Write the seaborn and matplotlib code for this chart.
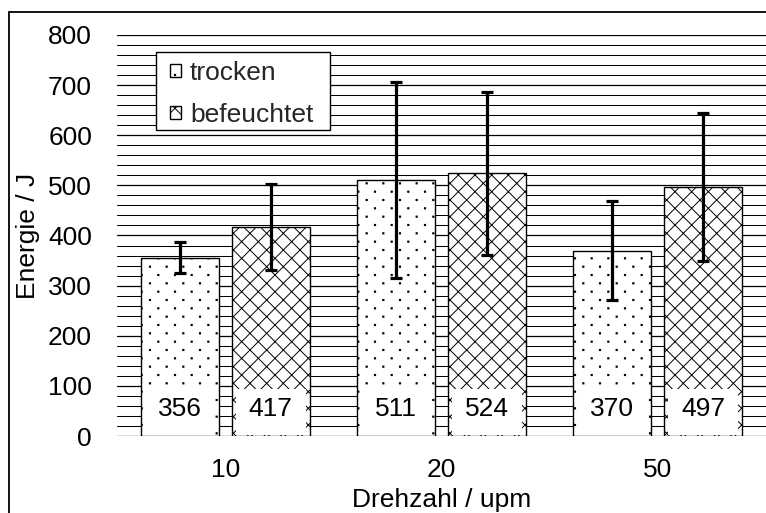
import numpy as np
import pandas as pd
import matplotlib
matplotlib.use("Agg")
import matplotlib.pyplot as plt
import seaborn as sns
from matplotlib import hatch as mhatch
from matplotlib.path import Path
from matplotlib.patches import Rectangle

# Messwerte: mittlere Energie je Drehzahl und Zustand, mit Standardabweichung
drehzahl = ["10", "20", "50"]
zustand = ["trocken", "befeuchtet"]
energie_trocken = [356, 511, 370]
energie_befeuchtet = [417, 524, 497]
fehler_trocken = [31, 196, 98]
fehler_befeuchtet = [85, 163, 148]


class SparseDots(mhatch.HatchPatternBase):
    """Staggered dot grid: columns at 1/n, rows at 1/(2n) of the hatch tile."""

    def __init__(self, hatch, density):
        self.ncol = hatch.count(".") * density
        self.nrow = 2 * self.ncol
        if self.ncol:
            ndots = (self.nrow // 2 + 1) * (self.ncol + 1) + (self.nrow // 2) * self.ncol
            self.num_vertices = ndots * 5
        else:
            self.num_vertices = 0

    def set_vertices_and_codes(self, vertices, codes):
        dx = 1.0 / self.ncol
        dy = 1.0 / self.nrow
        r = 0.006
        square = np.array([[-r, -r], [r, -r], [r, r], [-r, r], [-r, -r]])
        square_codes = [Path.MOVETO, Path.LINETO, Path.LINETO, Path.LINETO, Path.CLOSEPOLY]
        k = 0
        for row in range(self.nrow + 1):
            if row % 2 == 0:
                xs = np.linspace(0, 1, self.ncol + 1)
            else:
                xs = np.linspace(dx / 2, 1 - dx / 2, self.ncol)
            for x in xs:
                vertices[k:k + 5] = square + [x, row * dy]
                codes[k:k + 5] = square_codes
                k += 5


mhatch._hatch_types = [SparseDots if t is mhatch.SmallFilledCircles else t
                       for t in mhatch._hatch_types]

sns.set_theme(style="white")
plt.rcParams["font.family"] = ["Liberation Sans", "DejaVu Sans"]
plt.rcParams["hatch.linewidth"] = 0.7
plt.rcParams["hatch.color"] = "black"

FS = 19

df = pd.DataFrame({
    "Drehzahl": drehzahl * 2,
    "Zustand": [zustand[0]] * 3 + [zustand[1]] * 3,
    "Energie": energie_trocken + energie_befeuchtet,
})
fehler = [fehler_trocken, fehler_befeuchtet]

fig = plt.figure(figsize=(7.66, 5.13), dpi=100)
fig.patch.set_facecolor("white")
ax = fig.add_axes([117 / 766, 77 / 513, 649 / 766, 401 / 513])

sns.barplot(data=df, x="Drehzahl", y="Energie", hue="Zustand",
            order=drehzahl, hue_order=zustand,
            palette=["white", "white"], saturation=1,
            width=0.84, gap=0.143, edgecolor="black", linewidth=1.0,
            errorbar=None, legend=False, ax=ax)

hatches = [".", "xx"]
for cont, h, err in zip(ax.containers, hatches, fehler):
    xs, ys = [], []
    for bar in cont:
        bar.set_hatch(h)
        bar.set_zorder(2)
        x = bar.get_x() + bar.get_width() / 2
        xs.append(x)
        ys.append(bar.get_height())
        w = bar.get_width()
        # white label field at the foot of the bar
        ax.add_patch(Rectangle((x - 0.45 * w, 1.5), 0.9 * w, 93,
                               facecolor="white", edgecolor="none", zorder=3))
        ax.text(x, 53, f"{bar.get_height():.0f}", ha="center", va="center",
                fontsize=FS, color="black", zorder=4)
    ax.errorbar(xs, ys, yerr=err, fmt="none", ecolor="black",
                elinewidth=2.3, capsize=4.3, capthick=2.3, zorder=5)

ax.set_xlim(-0.5, 2.5)
ax.set_ylim(0, 800)
ax.set_yticks(np.arange(0, 801, 100))
ax.set_yticks(np.arange(0, 801, 20), minor=True)
ax.grid(axis="y", which="major", color="black", linewidth=0.9)
ax.grid(axis="y", which="minor", color="black", linewidth=0.75)
ax.set_axisbelow(True)
for s in ax.spines.values():
    s.set_visible(False)
ax.tick_params(axis="y", which="both", length=0, pad=18, labelsize=FS, colors="black")
ax.tick_params(axis="x", length=0, pad=16, labelsize=FS, colors="black")

ax.set_xlabel("Drehzahl / upm", fontsize=FS, color="black", labelpad=4)
ax.set_ylabel("Energie / J", fontsize=FS, color="black", labelpad=6)

# legend: white framed box with the entries placed inside
box_x0, box_x1, box_y0, box_y1 = 0.060, 0.328, 0.763, 0.958
ax.add_patch(Rectangle((box_x0, box_y0), box_x1 - box_x0, box_y1 - box_y0,
                       transform=ax.transAxes, facecolor="white",
                       edgecolor="black", linewidth=1.0, zorder=6))
leg = ax.legend(handles=list(ax.containers), labels=zustand,
                loc="center left",
                bbox_to_anchor=(0.0817, (box_y0 + box_y1) / 2 - 0.0075),
                borderaxespad=0, fontsize=FS, frameon=False,
                handlelength=0.4, handleheight=0.4,
                handletextpad=0.36, labelspacing=0.69, borderpad=0)
leg.set_zorder(7)

# outer chart frame
fig.patches.append(Rectangle((9 / 766, -0.1), 1.2, 1.1 - 12 / 513,
                             transform=fig.transFigure, fill=False,
                             edgecolor="black", linewidth=1.3))

fig.savefig("out.png", dpi=100, facecolor="white")
